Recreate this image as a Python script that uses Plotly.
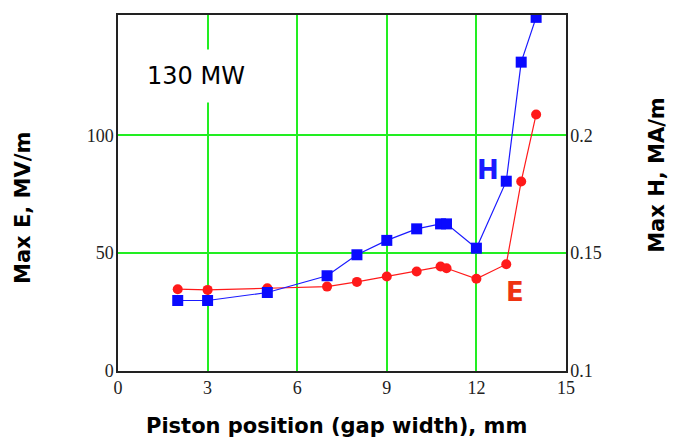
import plotly.graph_objects as go

# Data
x_pos = [2, 3, 5, 7, 8, 9, 10, 10.8, 11, 12, 13, 13.5, 14]
max_h = [0.1299, 0.1299, 0.1333, 0.1404, 0.1493, 0.1554, 0.1603, 0.1624, 0.1624, 0.1521, 0.1805, 0.2310, 0.2500]
max_e = [34.7, 34.4, 35.1, 35.8, 37.8, 40.1, 42.2, 44.3, 43.6, 39.1, 45.3, 80.4, 108.8]

x_ticks = [0, 3, 6, 9, 12, 15]
e_ticks = [0, 50, 100]
h_ticks = [0.1, 0.15, 0.2, 0.25]
h_tick_text = ["0.1", "0.15", "0.2", "0.25"]

GREEN = "#22ee22"
TITLE_FONT = dict(family="DejaVu Sans", size=21, color="black", weight="bold")
TICK_FONT = dict(family="Liberation Serif", size=18, color="#222222")

fig = go.Figure()
fig.add_trace(go.Scatter(
    x=x_pos, y=max_e, mode="lines+markers", name="E",
    line=dict(color="#ff1a1a", width=1.2),
    marker=dict(symbol="circle", size=10, color="#ff1a1a"),
    yaxis="y", cliponaxis=False))
fig.add_trace(go.Scatter(
    x=x_pos, y=max_h, mode="lines+markers", name="H",
    line=dict(color="#1a1aff", width=1.2),
    marker=dict(symbol="square", size=11, color="#0a0aff"),
    yaxis="y2", cliponaxis=True))

fig.update_layout(
    width=678, height=442,
    margin=dict(l=110, r=120, t=7, b=79, autoexpand=False),
    paper_bgcolor="white", plot_bgcolor="white",
    showlegend=False,
    xaxis=dict(range=[0, 15], tickvals=x_ticks, showgrid=True, gridcolor=GREEN, gridwidth=2,
               zeroline=False, showline=True, linecolor="#222222", linewidth=1.5, mirror=True,
               ticks="", tickfont=TICK_FONT, automargin=False),
    yaxis=dict(range=[0, 151], tickvals=e_ticks, showgrid=True, gridcolor=GREEN, gridwidth=2,
               zeroline=False, showline=True, linecolor="#222222", linewidth=1.5,
               ticks="", ticklabelstandoff=-1, tickfont=TICK_FONT, automargin=False),
    yaxis2=dict(range=[0.1, 0.251], tickvals=h_ticks, ticktext=h_tick_text, overlaying="y",
                side="right", showgrid=False, zeroline=False, showline=True,
                linecolor="#222222", linewidth=1.5, ticks="", ticklabelstandoff=-1,
                tickfont=TICK_FONT, automargin=False),
    annotations=[
        dict(x=2.61, y=125, xref="x", yref="y", text="130 MW", showarrow=False,
             xanchor="center", yanchor="middle",
             font=dict(family="DejaVu Sans", size=24, color="black"),
             bgcolor="white", borderpad=12),
        dict(x=12.39, y=85.4, xref="x", yref="y", text="H", showarrow=False,
             xanchor="center", yanchor="middle",
             font=dict(family="DejaVu Sans", size=26, color="#1a1aff", weight="bold")),
        dict(x=13.29, y=33.6, xref="x", yref="y", text="E", showarrow=False,
             xanchor="center", yanchor="middle",
             font=dict(family="DejaVu Sans", size=26, color="#ee3311", weight="bold")),
        dict(x=-0.212, y=0.458, xref="paper", yref="paper", text="Max E, MV/m",
             showarrow=False, textangle=-90, xanchor="center", yanchor="middle", font=TITLE_FONT),
        dict(x=1.203, y=0.551, xref="paper", yref="paper", text="Max H, MA/m",
             showarrow=False, textangle=-90, xanchor="center", yanchor="middle", font=TITLE_FONT),
        dict(x=0.487, y=-0.154, xref="paper", yref="paper", text="Piston position (gap width), mm",
             showarrow=False, xanchor="center", yanchor="middle", font=TITLE_FONT),
    ],
)

fig.write_html("out.html")
